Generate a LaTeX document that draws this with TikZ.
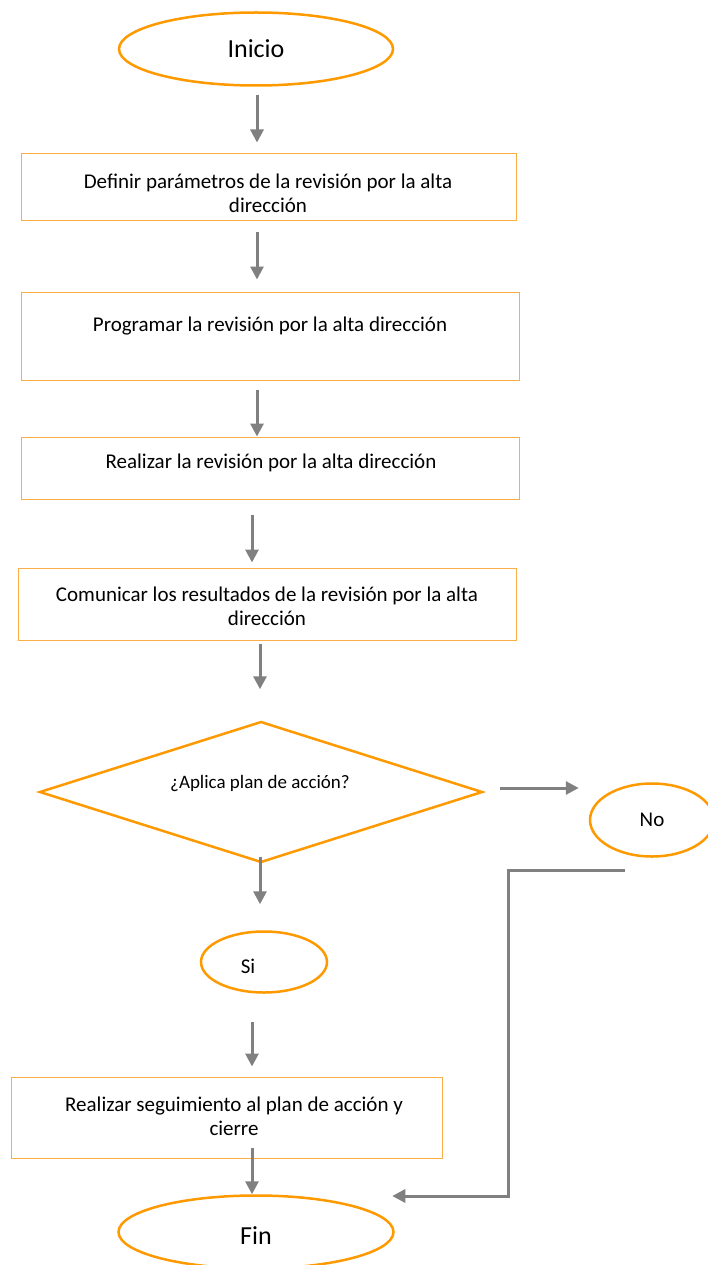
\documentclass[tikz,border=0pt]{standalone}
\usepackage{fontspec}
\setmainfont{Carlito}
\usetikzlibrary{arrows.meta,shapes.geometric}
\definecolor{orng}{RGB}{255,153,0}
\definecolor{lorng}{RGB}{250,175,70}
\definecolor{arrgray}{RGB}{128,128,128}
\tikzset{
  oval/.style={ellipse, draw=orng, line width=2.5pt, inner sep=0pt},
  stepbox/.style={rectangle, draw=lorng, line width=1pt, inner sep=0pt},
  txt/.style={font=\fontsize{21}{24}\selectfont, align=center, inner sep=0pt},
  arr/.style={draw=arrgray, line width=3pt, -{Triangle[width=13pt,length=13pt]}},
  seg/.style={draw=arrgray, line width=3pt}
}
\begin{document}
\begin{tikzpicture}[x=1pt,y=-1pt]
\useasboundingbox (0,0) rectangle (708,1265);
% nodes
\node[oval, minimum width=274pt, minimum height=73pt, font=\fontsize{26}{30}\selectfont] (inicio) at (256,49) {Inicio};
\node[stepbox, minimum width=495pt, minimum height=67pt] (b1) at (268.5,187.5) {};
\node[txt] (b1t) at (268,193) {Definir parámetros de la revisión por la alta\\dirección};
\node[stepbox, minimum width=498pt, minimum height=88pt] (b2) at (270,336) {};
\node[txt] (b2t) at (270,326) {Programar la revisión por la alta dirección};
\node[stepbox, minimum width=498pt, minimum height=62pt] (b3) at (270,468) {};
\node[txt] (b3t) at (271,463) {Realizar la revisión por la alta dirección};
\node[stepbox, minimum width=498pt, minimum height=72pt] (b4) at (267,604) {};
\node[txt] (b4t) at (267,606) {Comunicar los resultados de la revisión por la alta\\dirección};
\node[diamond, draw=orng, line width=2.5pt, minimum width=443pt, minimum height=141pt, inner sep=0pt, aspect=3.15] (dec) at (261,792) {};
\node[txt, font=\fontsize{19}{22}\selectfont] (dect) at (260,783) {¿Aplica plan de acción?};
\node[oval, minimum width=124pt, minimum height=73pt, font=\fontsize{21}{24}\selectfont] (no) at (652,820) {No};
\node[oval, minimum width=126pt, minimum height=61pt] (si) at (264,962) {};
\node[txt] (sit) at (248,966) {Si};
\node[stepbox, minimum width=431pt, minimum height=81pt] (b5) at (226.5,1117.5) {};
\node[txt] (b5t) at (234,1116) {Realizar seguimiento al plan de acción y\\cierre};
\node[oval, minimum width=275pt, minimum height=73pt] (fin) at (256,1232) {};
\node[txt, font=\fontsize{26}{30}\selectfont] (fint) at (256,1236) {Fin};
\coordinate (nostart) at (625,870);
\coordinate (corner1) at (508,870);
\coordinate (corner2) at (508,1196);
% connectors
\draw[arr] ([xshift=1pt,yshift=-8pt]inicio.south) -- ([xshift=1pt,yshift=11pt]inicio.south |- b1.north);
\draw[arr] ([xshift=-11.5pt,yshift=-11pt]b1.south) -- ([xshift=-11.5pt,yshift=12pt]b1.south |- b2.north);
\draw[arr] ([xshift=-13pt,yshift=-9pt]b2.south) -- ([xshift=-13pt,yshift=0pt]b2.south |- b3.north);
\draw[arr] ([xshift=-18pt,yshift=-15pt]b3.south) -- ([xshift=-18pt,yshift=5pt]b3.south |- b4.north);
\draw[arr] ([xshift=-7pt,yshift=-3pt]b4.south) -- ([xshift=-7pt,yshift=31pt]b4.south |- dec.north);
\draw[arr] ([xshift=16pt,yshift=4pt]dec.east) -- ([xshift=-10pt,yshift=4pt]dec.east -| no.west);
\draw[arr] ([xshift=-1pt,yshift=7pt]dec.south) -- ([xshift=-1pt,yshift=26pt]dec.south |- si.north);
\draw[arr] ([xshift=-12pt,yshift=-28pt]si.south) -- ([xshift=-12pt,yshift=10pt]si.south |- b5.north);
\draw[arr] ([xshift=25.5pt,yshift=11pt]b5.south) -- ([xshift=-4pt,yshift=0pt]fin.north);
\draw[seg] (nostart) -- (corner1) -- (corner2);
\draw[arr] ([xshift=1.5pt]corner2) -- ([xshift=-2.5pt]fin.east |- corner2);
\end{tikzpicture}
\end{document}
